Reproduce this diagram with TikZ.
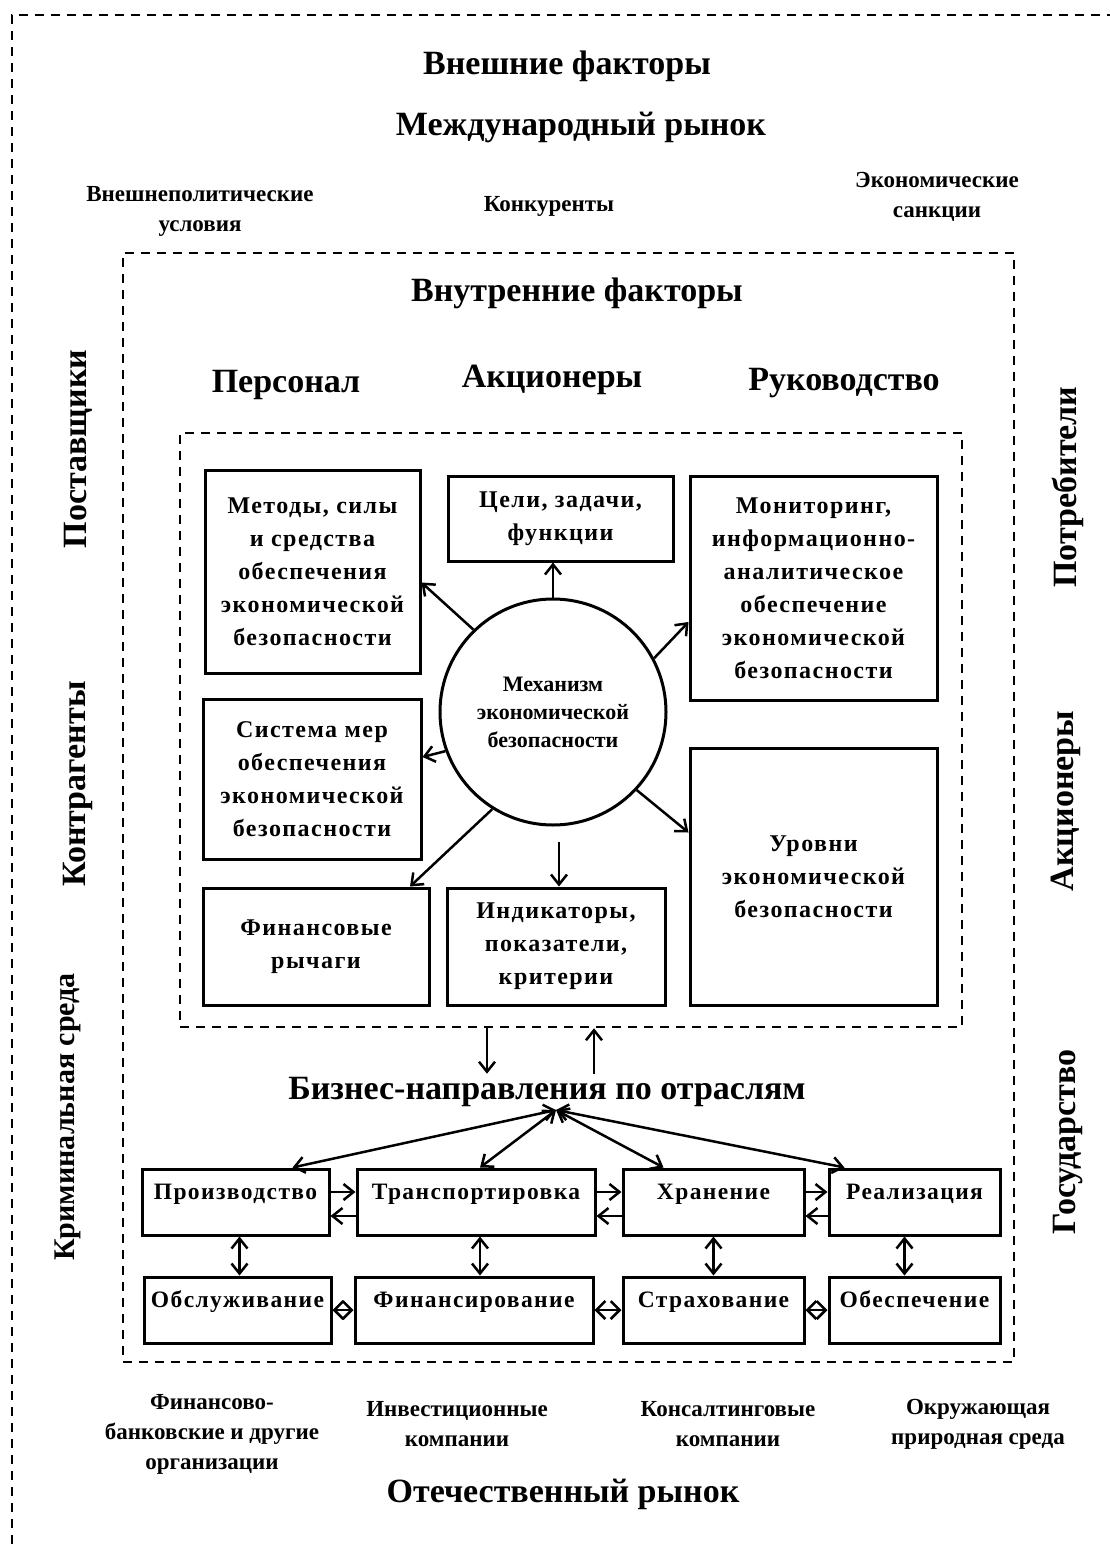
\documentclass[tikz,border=0pt]{standalone}
\usepackage{fontspec}
\setmainfont{Liberation Serif}
\newfontfamily\razr{Liberation Serif}[LetterSpace=6]
\usetikzlibrary{arrows.meta, positioning}
\tikzset{
  punktir/.style={line width=2.5pt, dash pattern=on 9pt off 7pt},
  zagolovok/.style={font=\bfseries\fontsize{34}{40}\selectfont},
  podpis/.style={align=center, font=\bfseries\fontsize{23}{30}\selectfont},
  bokovaya/.style={rotate=90, font=\bfseries\fontsize{34}{40}\selectfont},
  blok/.style={draw, rectangle, line width=3pt, align=center, inner sep=0pt, font=\razr\bfseries\fontsize{24}{33}\selectfont},
  ryad/.style={draw, rectangle, line width=3pt, inner sep=0pt, minimum height=66pt, text height=30pt, text depth=36pt, font=\razr\bfseries\fontsize{23.5}{26}\selectfont},
  strelka/.style={line width=2.5pt, -{Straight Barb[length=10pt, width=16pt]}},
  dvoinaya/.style={line width=2.5pt, {Straight Barb[length=10pt, width=16pt]}-{Straight Barb[length=10pt, width=16pt]}},
  romb/.style={line width=2.5pt, {Straight Barb[length=9pt, width=18pt]}-{Straight Barb[length=9pt, width=18pt]}}
}

\begin{document}
\begin{tikzpicture}[x=1pt, y=-1pt]
            \useasboundingbox (0,0) rectangle (1110,1544);
            % vneshnie faktory
            \draw[punktir] (12,1544) -- (12,15) -- (1110,15);
            \node[zagolovok] (vneshnie) at (567,66) {Внешние факторы};
            \node[zagolovok] (mezhd-rynok) at (581,127) {Международный рынок};
            \node[podpis] (vneshnepolit) at (200,211) {Внешнеполитические\\условия};
            \node[podpis] (konkurenty) at (549,206) {Конкуренты};
            \node[podpis] (sankcii) at (937,197) {Экономические\\санкции};
            \node[bokovaya] (postavshiki) at (78,449) {Поставщики};
            \node[bokovaya] (kontragenty) at (78,784) {Контрагенты};
            \node[bokovaya, font=\bfseries\fontsize{30}{36}\selectfont] (kriminal) at (68,1117) {Криминальная среда};
            \node[bokovaya] (potrebiteli) at (1068,487) {Потребители};
            \node[bokovaya] (akcionery-vn) at (1066,801) {Акционеры};
            \node[bokovaya] (gosudarstvo) at (1068,1142) {Государство};

            % vnutrennie faktory
            \node[draw, punktir, minimum width=891pt, minimum height=1109pt, inner sep=0pt] (vnutr) at (568.5,807.5) {};
            \node[zagolovok] (vnutrennie) at (577,293) {Внутренние факторы};
            \node[zagolovok] (personal) at (286,385) {Персонал};
            \node[zagolovok] (akcionery) at (552,380) {Акционеры};
            \node[zagolovok] (rukovodstvo) at (844,383) {Руководство};

            % mehanizm
            \node[draw, punktir, minimum width=782pt, minimum height=594pt, inner sep=0pt] (kontur) at (571,730) {};
            \node[draw, circle, line width=3pt, minimum size=226pt, align=center, font=\bfseries\fontsize{22}{28}\selectfont] (mehanizm) at (553,712) {Механизм\\экономической\\безопасности};
            \node[blok, minimum width=215pt, minimum height=203pt] (metody) at (312.5,571.5) {Методы, силы\\и средства\\обеспечения\\экономической\\безопасности};
            \node[blok, minimum width=225pt, minimum height=85pt] (celi) at (560.5,518.5) {Цели, задачи,\\функции};
            \node[blok, minimum width=247pt, minimum height=224pt] (monitoring) at (813.5,588) {Мониторинг,\\информационно-\\аналитическое\\обеспечение\\экономической\\безопасности};
            \node[blok, minimum width=218pt, minimum height=160pt] (sistema-mer) at (312,779) {Система мер\\обеспечения\\экономической\\безопасности};
            \node[blok, minimum width=226pt, minimum height=117pt] (fin-rychagi) at (316,946.5) {Финансовые\\рычаги};
            \node[blok, minimum width=218pt, minimum height=117pt] (indikatory) at (556,946.5) {Индикаторы,\\показатели,\\критерии};
            \node[blok, minimum width=247pt, minimum height=257pt] (urovni) at (813.5,876.5) {Уровни\\экономической\\безопасности};
            \draw[strelka] (mehanizm.134) -- ([yshift=-11pt]metody.east);
            \draw[strelka] (mehanizm.north) -- (mehanizm.north |- celi.south);
            \draw[strelka] (mehanizm.28) -- ([yshift=-34pt]monitoring.west);
            \draw[strelka] (mehanizm.200) -- ([yshift=22pt]sistema-mer.east);
            \draw[strelka] (mehanizm.238) -- ([xshift=94pt]fin-rychagi.north);
            \draw[strelka] ([xshift=6pt, yshift=-15pt]mehanizm.south) -- ([xshift=6pt]mehanizm.south |- indikatory.north);
            \draw[strelka] (mehanizm.-43) -- ([yshift=44pt]urovni.west);

            % biznes-napravleniya
            \node[zagolovok] (biznes) at (547,1092) {Бизнес-направления по отраслям};
            \draw[strelka] ([xshift=-84pt]kontur.south) -- ([xshift=-84pt]kontur.south |- biznes.north);
            \draw[strelka] ([xshift=23pt]kontur.south |- biznes.north) -- ([xshift=23pt]kontur.south);
            \coordinate (uzel) at (556,1110);

            \node[ryad, minimum width=187pt] (proizvodstvo) at (235.5,1202) {Производство};
            \node[ryad, minimum width=238pt] (transportirovka) at (476,1202) {Транспортировка};
            \node[ryad, minimum width=181pt] (hranenie) at (713.5,1202) {Хранение};
            \node[ryad, minimum width=171pt] (realizaciya) at (914.5,1202) {Реализация};
            \node[ryad, minimum width=187pt] (obsluzhivanie) at (237.5,1310) {Обслуживание};
            \node[ryad, minimum width=238pt] (finansirovanie) at (474,1310) {Финансирование};
            \node[ryad, minimum width=181pt] (strahovanie) at (713.5,1310) {Страхование};
            \node[ryad, minimum width=171pt] (obespechenie) at (914.5,1310) {Обеспечение};

            \draw[dvoinaya] (uzel) -- ([xshift=57pt]proizvodstvo.north);
            \draw[dvoinaya] (uzel) -- ([xshift=4pt]transportirovka.north);
            \draw[dvoinaya] (uzel) -- ([xshift=-50pt]hranenie.north);
            \draw[dvoinaya] (uzel) -- ([xshift=-70pt]realizaciya.north);

            \draw[strelka] ([yshift=10pt]proizvodstvo.east) -- ([yshift=10pt]proizvodstvo.east -| transportirovka.west);
            \draw[strelka] ([yshift=-14pt]transportirovka.west) -- ([yshift=-14pt]transportirovka.west -| proizvodstvo.east);
            \draw[strelka] ([yshift=10pt]transportirovka.east) -- ([yshift=10pt]transportirovka.east -| hranenie.west);
            \draw[strelka] ([yshift=-14pt]hranenie.west) -- ([yshift=-14pt]hranenie.west -| transportirovka.east);
            \draw[strelka] ([yshift=10pt]hranenie.east) -- ([yshift=10pt]hranenie.east -| realizaciya.west);
            \draw[strelka] ([yshift=-14pt]realizaciya.west) -- ([yshift=-14pt]realizaciya.west -| hranenie.east);

            \draw[dvoinaya] ([xshift=4pt]proizvodstvo.south) -- ([xshift=4pt]proizvodstvo.south |- obsluzhivanie.north);
            \draw[dvoinaya] ([xshift=4pt]transportirovka.south) -- ([xshift=4pt]transportirovka.south |- finansirovanie.north);
            \draw[dvoinaya] (hranenie.south) -- (hranenie.south |- strahovanie.north);
            \draw[dvoinaya] ([xshift=-10pt]realizaciya.south) -- ([xshift=-10pt]realizaciya.south |- obespechenie.north);

            \draw[romb] (obsluzhivanie.east) -- (obsluzhivanie.east -| finansirovanie.west);
            \draw[romb] (finansirovanie.east) -- (finansirovanie.east -| strahovanie.west);
            \draw[romb] (strahovanie.east) -- (strahovanie.east -| obespechenie.west);

            % otechestvenny rynok
            \node[podpis] (fin-bank) at (212,1434) {Финансово-\\банковские и другие\\организации};
            \node[podpis] (investicionnye) at (457,1424) {Инвестиционные\\компании};
            \node[podpis] (konsalting) at (728,1424) {Консалтинговые\\компании};
            \node[podpis] (okruzh-sreda) at (978,1424) {Окружающая\\природная среда};
            \node[zagolovok] (otech-rynok) at (563,1494) {Отечественный рынок};
      \end{tikzpicture}
\end{document}
